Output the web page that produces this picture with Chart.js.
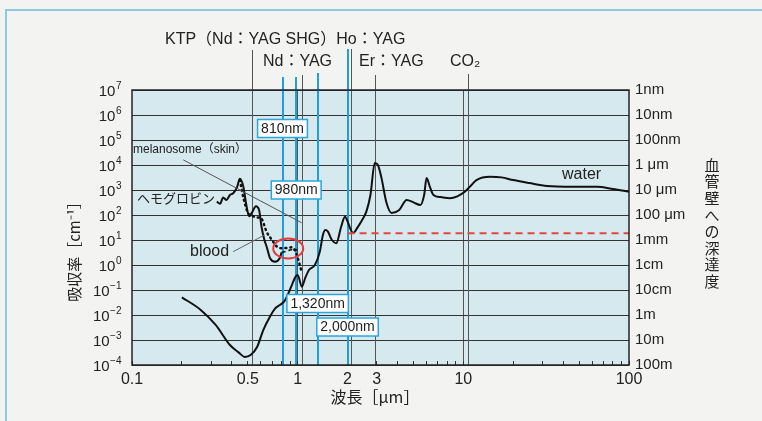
<!DOCTYPE html>
<html lang="ja">
<head>
<meta charset="UTF-8">
<title>吸収率と深達度</title>
<script src="https://cdn.jsdelivr.net/npm/chart.js"></script>
<style>
  body { margin: 0; background: #f3f4f1; overflow: hidden; }
  .wrap { position: relative; width: 762px; height: 421px; }
  .frame { position: absolute; left: 5px; top: 9px; right: 0; bottom: 0;
           border-top: 2px solid #8ccbdd; border-left: 2px solid #8ccbdd; }
  canvas { position: absolute; left: 0; top: 0; }
</style>
</head>
<body>
<div class="wrap">
  <div class="frame"></div>
  <canvas id="absChart" width="762" height="421"></canvas>
</div>
<script>
// wavelength [µm] / absorption coefficient [cm^-1]
const waterWl  = [0.20, 0.26, 0.32, 0.39, 0.44, 0.48, 0.52, 0.57, 0.62, 0.68, 0.73, 0.78, 0.83, 0.88, 0.93, 0.97, 1.0, 1.06, 1.11, 1.17, 1.27, 1.36, 1.42, 1.47, 1.52, 1.61, 1.71, 1.83, 1.93, 2.0, 2.07, 2.16, 2.3, 2.45, 2.6, 2.75, 2.92, 3.05, 3.2, 3.44, 3.69, 4.1, 4.55, 5.0, 5.5, 5.8, 6.0, 6.3, 6.6, 7.3, 8.3, 9.2, 10.2, 11, 12, 14.5, 17, 20, 25, 32, 45, 64, 80, 100];
const waterAbs = [5.1e-2, 1.6e-2, 4.0e-3, 6.3e-4, 3.2e-4, 2.1e-4, 2.5e-4, 5.4e-4, 2.5e-3, 8.5e-3, 1.8e-2, 2.5e-2, 3.5e-2, 7.4e-2, 0.18, 0.34, 0.40, 0.135, 0.30, 0.63, 1.0, 3.4, 16, 25, 22, 10, 7.4, 34, 85, 56, 30, 19, 32, 63, 140, 630, 1.2e4, 1.0e4, 3200, 300, 120, 160, 400, 320, 250, 630, 3000, 1260, 630, 520, 470, 560, 850, 1400, 2500, 3400, 3200, 2500, 1900, 1450, 1350, 1350, 1100, 850];

const hbWl  = [0.325, 0.34, 0.355, 0.372, 0.39, 0.408, 0.43, 0.448, 0.47, 0.49, 0.51, 0.53, 0.56, 0.585, 0.605, 0.63, 0.65, 0.68, 0.73, 0.78, 0.80];
const hbAbs = [340, 280, 500, 400, 630, 740, 1260, 2800, 1350, 250, 89, 126, 224, 158, 34, 10, 5.4, 1.9, 1.35, 1.9, 3.2];

const hbNirWl  = [0.80, 0.85, 0.90, 0.95, 1.0];
const hbNirAbs = [3.2, 3.5, 4.0, 4.2, 4.0];

const bloodWl  = [0.448, 0.47, 0.50, 0.54, 0.58, 0.605, 0.65, 0.70, 0.75, 0.80, 0.86, 0.92, 0.97, 1.0, 1.03, 1.05];
const bloodAbs = [2500, 500, 126, 89, 79, 71, 21, 10, 5.4, 4.7, 4.8, 5.1, 3.5, 2.0, 1.0, 0.63];

const melanoWl  = [0.204, 1.057];
const melanoAbs = [1.6e4, 49];

const bloodLeadWl  = [0.408, 0.63];
const bloodLeadAbs = [3.4, 15.8];

const depthLineWl  = [2.0, 100];
const depthLineAbs = [18.6, 18.6];

// laser lines [µm]
const blueLasers = [0.81, 0.98, 1.32, 2.0];
const blueLabels = ['810nm', '980nm', '1,320nm', '2,000nm'];
const grayLasers = [0.532, 1.064, 2.1, 2.94, 10.6];

const circleWl = 0.877, circleAbs = 4.6;

// ticks
const yTickValues = [1e-4, 1e-3, 1e-2, 1e-1, 1, 10, 100, 1e3, 1e4, 1e5, 1e6, 1e7];
const yTickExp    = ['−4', '−3', '−2', '−1', '0', '1', '2', '3', '4', '5', '6', '7'];
const depthLabels = ['100m', '10m', '1m', '10cm', '1cm', '1mm', '100 μm', '10 μm', '1 μm', '100nm', '10nm', '1nm'];
const xAllTicks = [0.1, 0.2, 0.3, 0.4, 0.5, 0.6, 0.7, 0.8, 0.9, 1, 2, 3, 4, 5, 6, 7, 8, 9, 10, 20, 30, 40, 50, 60, 70, 80, 90, 100];
const xTickLabels = { 0.1: '0.1', 0.5: '0.5', 1: '1', 2: '2', 3: '3', 10: '10', 100: '100' };

const FONT = '"Liberation Sans", "Noto Sans CJK JP", sans-serif';
const JFONT = '"Noto Sans CJK JP", "Liberation Sans", sans-serif';

function pts(xs, ys) { return xs.map((x, i) => ({ x: x, y: ys[i] })); }

function text(ctx, str, x, y, size, align, font) {
    ctx.font = size + 'px ' + (font || FONT);
    ctx.textAlign = align || 'left';
    ctx.textBaseline = 'middle';
    ctx.fillStyle = '#222';
    ctx.fillText(str, x, y);
}

const decor = {
    id: 'decor',
    beforeDraw(chart) {
        const { ctx, chartArea: a } = chart;
        ctx.save();
        ctx.fillStyle = '#d5e9ef';
        ctx.fillRect(a.left, a.top, a.right - a.left, a.bottom - a.top);
        ctx.restore();
    },
    beforeDatasetsDraw(chart) {
        const { ctx, chartArea: a, scales: { x } } = chart;
        const grayTop = [50, 75, 49, 75, 74];
        const blueTop = [77, 77, 73, 49];
        ctx.save();
        ctx.strokeStyle = '#555';
        ctx.lineWidth = 1;
        grayLasers.forEach((wl, i) => {
            const px = Math.round(x.getPixelForValue(wl)) + 0.5;
            ctx.beginPath(); ctx.moveTo(px, grayTop[i]); ctx.lineTo(px, a.bottom); ctx.stroke();
        });
        ctx.strokeStyle = '#1f9fe0';
        ctx.lineWidth = 2;
        blueLasers.forEach((wl, i) => {
            const px = Math.round(x.getPixelForValue(wl));
            ctx.beginPath(); ctx.moveTo(px, blueTop[i]); ctx.lineTo(px, a.bottom); ctx.stroke();
        });
        ctx.restore();
    },
    afterDatasetsDraw(chart) {
        const { ctx, chartArea: a, scales: { x, y } } = chart;
        ctx.save();

        // red circle
        ctx.strokeStyle = '#e33b3b';
        ctx.lineWidth = 2;
        ctx.beginPath();
        ctx.ellipse(x.getPixelForValue(circleWl), y.getPixelForValue(circleAbs), 15, 10, 0, 0, Math.PI * 2);
        ctx.stroke();

        // plot frame
        ctx.strokeStyle = '#222';
        ctx.lineWidth = 1.5;
        ctx.strokeRect(a.left, a.top, a.right - a.left, a.bottom - a.top);

        // left tick labels 10^n with real superscripts
        yTickValues.forEach((v, i) => {
            const py = y.getPixelForValue(v);
            ctx.font = '15px ' + FONT;
            const wBase = ctx.measureText('10').width;
            ctx.font = '10px ' + FONT;
            const wExp = ctx.measureText(yTickExp[i]).width;
            const x0 = a.left - 11 - wBase - wExp;
            text(ctx, '10', x0, py + 2, 15);
            text(ctx, yTickExp[i], x0 + wBase + 0.5, py - 4, 10);
        });

        // wavelength boxes
        const boxY = [128.5, 190, 303.5, 327];
        ctx.font = '14px ' + FONT;
        blueLabels.forEach((lab, i) => {
            const cx = x.getPixelForValue(blueLasers[i]);
            const w = ctx.measureText(lab).width + 7;
            ctx.fillStyle = '#fff';
            ctx.fillRect(cx - w / 2, boxY[i] - 9, w, 18);
            ctx.strokeStyle = '#2aa6dc';
            ctx.lineWidth = 1.5;
            ctx.strokeRect(cx - w / 2, boxY[i] - 9, w, 18);
            text(ctx, lab, cx, boxY[i] + 0.5, 14, 'center');
        });

        // curve labels
        text(ctx, 'melanosome（skin）', 133, 150, 12);
        text(ctx, 'ヘモグロビン', 137, 198, 13, 'left', JFONT);
        text(ctx, 'blood', 190, 252, 16);
        text(ctx, 'water', 562, 175, 16);

        // laser names above the plot
        text(ctx, 'KTP（Nd：YAG SHG）Ho：YAG', 165, 40, 16);
        text(ctx, 'Nd：YAG', 263, 62, 16);
        text(ctx, 'Er：YAG', 359, 62, 16);
        text(ctx, 'CO₂', 450, 62, 16);

        // axis titles
        text(ctx, '波長［μm］', 375, 397, 16, 'center', JFONT);
        ctx.save();
        ctx.translate(74, 248);
        ctx.rotate(-Math.PI / 2);
        text(ctx, '吸収率［cm⁻¹］', 0, 0, 15, 'center', JFONT);
        ctx.restore();
        Array.from('血管壁への深達度').forEach((ch, i) => {
            text(ctx, ch, 712, 165 + i * 16.6, 15, 'center', JFONT);
        });

        ctx.restore();
    }
};

const lineBase = { showLine: true, pointRadius: 0, fill: false };

new Chart(document.getElementById('absChart'), {
    type: 'scatter',
    data: {
        datasets: [
            { ...lineBase, label: 'melanosome', data: pts(melanoWl, melanoAbs), borderColor: '#555', borderWidth: 1 },
            { ...lineBase, label: 'blood leader', data: pts(bloodLeadWl, bloodLeadAbs), borderColor: '#666', borderWidth: 1 },
            { ...lineBase, label: 'depth', data: pts(depthLineWl, depthLineAbs), borderColor: '#e4453e', borderWidth: 2, borderDash: [7, 5] },
            { ...lineBase, label: 'water', data: pts(waterWl, waterAbs), borderColor: '#111', borderWidth: 2, cubicInterpolationMode: 'monotone' },
            { ...lineBase, label: 'ヘモグロビン', data: pts(hbWl, hbAbs), borderColor: '#111', borderWidth: 2, cubicInterpolationMode: 'monotone' },
            { ...lineBase, label: 'ヘモグロビン NIR', data: pts(hbNirWl, hbNirAbs), borderColor: '#111', borderWidth: 1.6, borderDash: [4, 3], cubicInterpolationMode: 'monotone' },
            { ...lineBase, label: 'blood', data: pts(bloodWl, bloodAbs), borderColor: '#111', borderWidth: 2.5, borderDash: [1, 4], borderCapStyle: 'round', cubicInterpolationMode: 'monotone' }
        ]
    },
    options: {
        responsive: false,
        animation: false,
        layout: { padding: { top: 90 } },
        plugins: { legend: { display: false }, tooltip: { enabled: false } },
        scales: {
            x: {
                type: 'logarithmic', min: 0.1, max: 100, position: 'bottom',
                afterBuildTicks: s => { s.ticks = xAllTicks.map(v => ({ value: v })); },
                afterFit: s => { s.height = 56; },
                ticks: {
                    autoSkip: false, maxRotation: 0, padding: 9, color: '#222',
                    font: { size: 16, family: FONT },
                    callback: v => xTickLabels[v] || ''
                },
                grid: {
                    color: c => (c.tick && (c.tick.value === 1 || c.tick.value === 10)) ? '#555' : 'rgba(0,0,0,0)',
                    tickColor: '#333', tickLength: -4, lineWidth: 1
                },
                border: { display: false }
            },
            y: {
                type: 'logarithmic', min: 1e-4, max: 1e7, position: 'left',
                afterBuildTicks: s => { s.ticks = yTickValues.map(v => ({ value: v })); },
                afterFit: s => { s.width = 132; },
                ticks: { autoSkip: false, callback: () => '' },
                grid: { color: '#333', lineWidth: 1, drawTicks: false },
                border: { display: false }
            },
            y2: {
                type: 'logarithmic', min: 1e-4, max: 1e7, position: 'right',
                afterBuildTicks: s => { s.ticks = yTickValues.map(v => ({ value: v })); },
                afterFit: s => { s.width = 133; },
                ticks: {
                    autoSkip: false, padding: 6, color: '#222',
                    font: { size: 15, family: FONT },
                    callback: (v, i) => depthLabels[i]
                },
                grid: { display: false, drawTicks: false },
                border: { display: false }
            }
        }
    },
    plugins: [decor]
});
</script>
</body>
</html>
